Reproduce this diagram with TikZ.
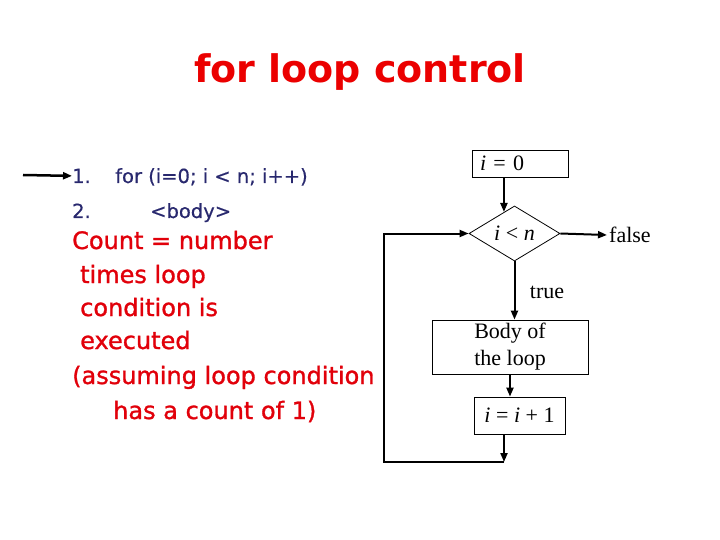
\documentclass[tikz,border=0pt]{standalone}
\usepackage{fontspec}
\setmainfont{Liberation Serif}
\newfontfamily\comicfont{DejaVu Sans}
\newfontfamily\comicheavy[FakeBold=1.2]{DejaVu Sans}
\newfontfamily\comicmid[FakeBold=0.5]{DejaVu Sans}
\usetikzlibrary{shapes.geometric,arrows.meta,calc}

\definecolor{titlered}{RGB}{235,0,0}
\definecolor{notered}{RGB}{225,0,10}
\definecolor{codeblue}{RGB}{40,40,110}

\tikzset{
  box/.style={draw, line width=0.8pt, inner sep=0pt, font=\fontsize{22}{27}\selectfont},
  decision/.style={diamond, draw, line width=0.8pt, inner sep=0pt,
    minimum width=91pt, minimum height=53pt, font=\fontsize{22}{27}\selectfont},
  flow/.style={line width=2pt, -{Triangle[length=9pt,width=7pt]}},
  code/.style={anchor=base west, inner sep=0pt, text=codeblue,
    font=\comicmid\fontsize{19.5}{23}\selectfont},
  note/.style={anchor=base west, inner sep=0pt, text=notered,
    font=\comicheavy\fontsize{24}{28}\selectfont},
  tag/.style={inner sep=2pt, font=\fontsize{22}{27}\selectfont}
}

\begin{document}
\begin{tikzpicture}[x=1pt,y=-1pt]
\useasboundingbox (0,0) rectangle (720,540);

% Titre
\node[anchor=base, text=titlered, font=\comicfont\bfseries\fontsize{38}{44}\selectfont]
  (title) at (360,83) {for loop control};

% Code
\node[code] (line1) at (72,183) {1.};
\node[code] (forhead) at (115,183) {for (i=0; i < n; i++)};
\node[code] (line2) at (72,218) {2.};
\node[code] (bodytag) at (150,218) {<body>};

\coordinate (start) at (23,175);
\draw[flow, line width=2.5pt] (start) -- (line1.west);

% Remarque
\foreach \txt/\x/\y [count=\k] in {
{Count = number}/72/249,
{times loop}/80/283,
{condition is}/80/316,
{executed}/80/349,
{(assuming loop condition}/72/384,
{has a count of 1)}/113/419
}
{
\node[note] (note\k) at (\x,\y) {\txt};
}

% Organigramme
\node[box, minimum width=96pt, minimum height=27pt, text width=80pt,
  align=left, inner xsep=8pt] (init) at (520,163.5) {\textit{i} = 0};
\node[decision] (cond) at (514.5,233.5) {\textit{i} < \textit{n}};
\node[box, minimum width=156pt, minimum height=54pt, align=center]
  (loopbody) at (510,347) {Body of\\the loop};
\node[box, minimum width=91pt, minimum height=37pt]
  (step) at (519.5,415.5) {\textit{i} = \textit{i} + 1};

\node[tag, anchor=west] (false) at (607,235) {false};
\node[tag] (true) at (547,292) {true};

\coordinate (hit) at ($(cond.west)!0.77!(cond.north)$);
\coordinate (back) at (504,462);
\coordinate (corner) at (384,462);

\draw[flow] (init.south -| hit) -- (hit);
\draw[flow] (cond.east) -- (false.west);
\draw[flow] (cond.south) -- (cond.south |- loopbody.north);
\draw[flow] (loopbody.south) -- (loopbody.south |- step.north);
\draw[flow] (step.south -| back) -- (back);
\draw[flow] (back) -- (corner) |- (cond.west);

\end{tikzpicture}
\end{document}
